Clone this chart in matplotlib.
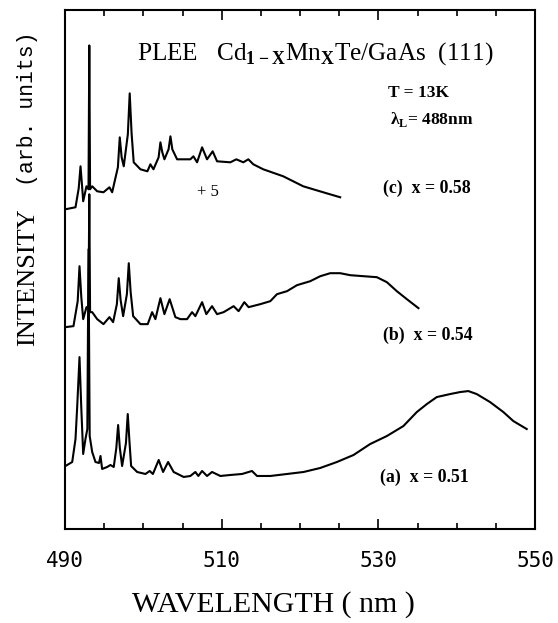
import matplotlib
matplotlib.use('Agg')
import matplotlib.pyplot as plt
from matplotlib.ticker import MultipleLocator

plt.rcParams['mathtext.fontset'] = 'custom'
plt.rcParams['mathtext.rm'] = 'Liberation Serif'
plt.rcParams['mathtext.bf'] = 'Liberation Serif:bold'

# spectra: wavelength (nm) and intensity (arb. units, stacked)
wl_c = [490.06, 491.34, 491.75, 491.98, 492.2, 492.32, 492.74, 493.0, 493.1, 493.2,
        493.47, 494.11, 494.91, 495.67, 496.02, 496.75, 496.99, 497.23, 497.50, 498.02,
        498.26, 498.5, 498.77, 499.63, 500.52, 500.90, 501.29, 501.95, 502.18, 502.42,
        502.69, 503.22, 503.46, 503.7, 504.31, 506.00, 506.39, 506.86, 507.50, 508.13,
        508.85, 509.41, 511.11, 511.87, 512.76, 513.40, 514.04, 515.31, 517.86, 520.41,
        522.96, 525.13]
int_c = [320, 322, 341, 363, 341, 328, 343, 340, 484, 340,
         343, 338, 337, 342, 337, 362, 392, 372, 363, 395,
         436, 396, 367, 360, 358, 365, 360, 372, 387, 377,
         370, 380, 393, 380, 370, 370, 373, 367, 382, 370,
         378, 368, 367, 370, 367, 370, 365, 360, 353, 343,
         337, 332]

wl_b = [490.06, 491.08, 491.62, 491.85, 492.08, 492.32, 492.74, 493.0, 493.1, 493.2,
        493.47, 494.11, 494.91, 495.67, 496.14, 496.62, 496.86, 497.1, 497.42, 497.9,
        498.14, 498.38, 498.70, 499.63, 500.56, 501.12, 501.54, 502.18, 502.69, 503.36,
        504.09, 504.73, 505.58, 506.22, 506.64, 507.50, 508.04, 508.77, 509.41, 510.25,
        511.53, 512.16, 512.89, 513.44, 514.93, 516.21, 517.06, 518.34, 519.61, 521.31,
        522.59, 523.86, 525.13, 526.41, 528.10, 529.81, 531.09, 532.36, 533.64, 535.12]
int_b = [202, 203, 228, 263, 232, 210, 222, 222, 335, 217,
         217, 210, 205, 212, 207, 225, 251, 229, 213, 235,
         266, 237, 213, 205, 205, 217, 210, 231, 215, 230,
         212, 210, 210, 217, 213, 227, 215, 223, 215, 217,
         223, 218, 227, 222, 225, 228, 235, 238, 244, 248,
         253, 256, 256, 254, 253, 252, 247, 238, 230, 221]

wl_a = [490.06, 490.92, 491.34, 491.56, 491.85, 492.07, 492.32, 492.61, 492.85, 493.0,
        493.15, 493.47, 493.89, 494.34, 494.53, 494.74, 495.38, 495.80, 496.22, 496.55,
        496.78, 497.0, 497.29, 497.78, 498.01, 498.24, 498.44, 499.21, 500.27, 500.81,
        501.22, 501.96, 502.52, 503.16, 503.87, 505.15, 506.00, 506.64, 507.02, 507.50,
        508.13, 508.77, 509.83, 511.11, 512.60, 513.87, 514.51, 516.21, 518.34, 520.45,
        522.58, 524.71, 526.83, 528.96, 531.09, 533.20, 534.91, 536.19, 537.46, 539.16,
        540.43, 541.49, 542.56, 544.26, 545.96, 547.23, 548.94]
int_a = [63, 67, 90, 123, 172, 123, 75, 90, 100, 280,
         93, 77, 67, 66, 73, 60, 62, 64, 62, 81,
         104, 81, 63, 86, 115, 86, 63, 57, 55, 58,
         55, 69, 57, 67, 57, 52, 53, 57, 53, 58,
         53, 57, 53, 54, 55, 58, 53, 53, 55, 57,
         61, 67, 74, 85, 93, 103, 117, 125, 132, 135,
         137, 138, 135, 127, 117, 108, 100]

xticks = [490, 510, 530, 550]

fig = plt.figure(figsize=(5.58, 6.23), dpi=100)
ax = fig.add_axes([0.1165, 0.151, 0.8423, 0.833])

for wl, inten in [(wl_a, int_a), (wl_b, int_b), (wl_c, int_c)]:
    ax.plot(wl, inten, color='black', lw=1.5)

ax.set_xlim(490, 550)
ax.set_ylim(0, 519.5)
ax.set_xticks(xticks)
ax.xaxis.set_minor_locator(MultipleLocator(5))
ax.set_yticks([])
ax.tick_params(axis='x', which='both', direction='in', top=True, width=1.2)
ax.tick_params(axis='x', which='major', length=7, pad=16)
ax.tick_params(axis='x', which='minor', length=4)
for s in ax.spines.values():
    s.set_linewidth(1.5)
for lbl in ax.get_xticklabels():
    lbl.set_fontfamily('DejaVu Sans Mono')
    lbl.set_fontsize(15)

serif = 'Liberation Serif'
ax.text(499.25, 469.5, r'PLEE   Cd$_{\mathbf{1-X}}$Mn$_{\mathbf{X}}$Te/GaAs  (111)',
        family=serif, fontsize=18.2, va='baseline', ha='left')
ax.text(531.25, 436.5, 'T = 13K', family=serif, fontsize=12.5, fontweight='bold', va='center')
ax.text(531.5, 409.5, r'λ$_{\mathbf{L}}$= 488nm', family=serif, fontsize=12.5,
        fontweight='bold', va='center')
ax.text(530.6, 340.5, '(c)  x = 0.58', family=serif, fontsize=12.8, fontweight='bold', va='center')
ax.text(530.6, 193.5, '(b)  x = 0.54', family=serif, fontsize=12.8, fontweight='bold', va='center')
ax.text(530.2, 51.5, '(a)  x = 0.51', family=serif, fontsize=12.8, fontweight='bold', va='center')
ax.text(508.2, 337.5, '+ 5', family=serif, fontsize=12, ha='center', va='center')

fig.text(0.49, 0.030, 'WAVELENGTH ( nm )', family=serif, fontsize=21.5, ha='center', va='center')
fig.text(0.050, 0.555, 'INTENSITY', family=serif, fontsize=19, rotation=90,
         ha='center', va='center')
fig.text(0.050, 0.825, '(arb. units)', family='Liberation Mono', fontsize=15.5, rotation=90,
         ha='center', va='center')

fig.savefig('out.png', dpi=100)
